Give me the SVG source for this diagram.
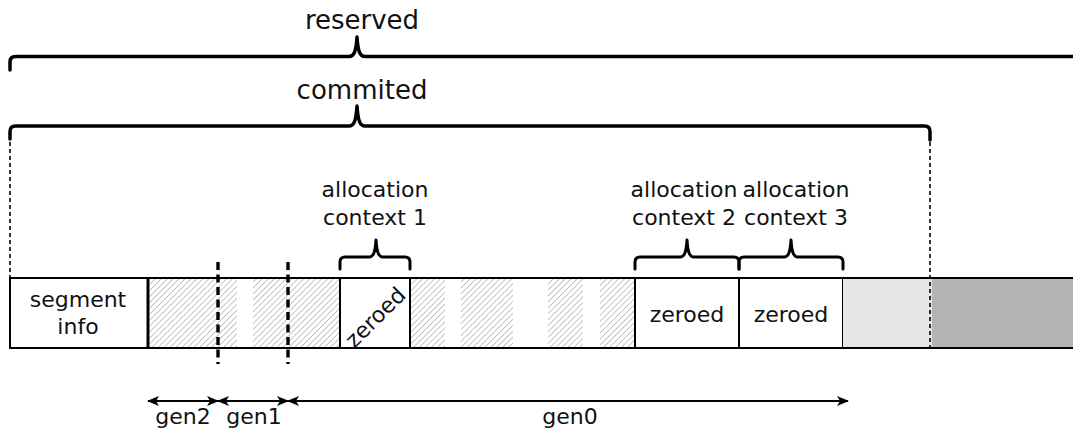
<svg xmlns="http://www.w3.org/2000/svg" width="1073" height="431" viewBox="0 0 1073 431">
  <style>
    text { font-family: "DejaVu Sans", "Liberation Sans", sans-serif; fill: #111; }
    .big { font-size: 26px; text-anchor: middle; }
    .lbl { font-size: 22px; text-anchor: middle; }
    .brace { fill: none; stroke: #000; stroke-width: 3.5; stroke-linecap: round; stroke-linejoin: round; }
    .sbrace { fill: none; stroke: #000; stroke-width: 3; stroke-linecap: round; stroke-linejoin: round; }
    .cell { fill: #fff; stroke: #000; stroke-width: 2; }
    .hatch { fill: url(#hatch); stroke: none; }
    .dot { stroke: #000; stroke-width: 1.6; stroke-dasharray: 4 3; fill: none; }
    .gen { stroke: #000; stroke-width: 3.4; stroke-dasharray: 8 4.5; fill: none; }
    .arr { stroke: #000; stroke-width: 1.8; fill: none; }
  </style>
  <defs>
    <pattern id="hatch" patternUnits="userSpaceOnUse" width="4.2" height="4.2" patternTransform="rotate(45)">
      <line x1="0" y1="0" x2="0" y2="4.2" stroke="#8c8c8c" stroke-width="1"/>
    </pattern>
    <marker id="head" viewBox="0 0 12 10" refX="11" refY="5" markerWidth="12" markerHeight="10" markerUnits="userSpaceOnUse" orient="auto-start-reverse">
      <path d="M0,0 L12,5 L0,10 L3,5 Z" fill="#000"/>
    </marker>
  </defs>

  <!-- top-level extents -->
  <g id="reserved">
    <path class="brace" d="M10,70 L10,62 Q10,56.5 15.5,56.5 L349,56.5 C354,56.5 356,52 357,37 C358,52 360,56.5 365,56.5 L1080,56.5"/>
    <text class="big" x="362" y="29">reserved</text>
  </g>
  <g id="commited">
    <path class="brace" d="M10,139 L10,131.5 Q10,126 15.5,126 L349,126 C354,126 356,121 357,106 C358,121 360,126 365,126 L924.5,126 Q930,126 930,131.5 L930,140"/>
    <text class="big" x="362" y="99">commited</text>
    <line class="dot" x1="10" y1="142" x2="10" y2="278"/>
  </g>

  <!-- segment bar -->
  <g id="segment-info">
    <rect class="cell" x="10" y="278" width="138" height="70"/>
    <text class="lbl" x="78" y="307">segment</text>
    <text class="lbl" x="78" y="334">info</text>
  </g>
  <g id="used-space">
    <rect x="148" y="278" width="192" height="70" fill="#fff"/>
    <rect class="hatch" x="148" y="278" width="89" height="70"/>
    <rect class="hatch" x="253" y="278" width="87" height="70"/>
    <rect x="410" y="278" width="225" height="70" fill="#fff"/>
    <rect class="hatch" x="410" y="278" width="35" height="70"/>
    <rect class="hatch" x="461" y="278" width="52" height="70"/>
    <rect class="hatch" x="548" y="278" width="35" height="70"/>
    <rect class="hatch" x="600" y="278" width="35" height="70"/>
    <line x1="148" y1="278" x2="635" y2="278" stroke="#000" stroke-width="2"/>
    <line x1="148" y1="348" x2="635" y2="348" stroke="#000" stroke-width="2"/>
    <line x1="148" y1="277" x2="148" y2="349" stroke="#000" stroke-width="3"/>
  </g>
  <g id="alloc-ctx-1">
    <rect class="cell" x="340" y="278" width="70" height="70"/>
    <text class="lbl" transform="translate(375,317) rotate(-45)" y="8">zeroed</text>
    <path class="sbrace" d="M340,269 L340,262 Q340,257 345,257 L369,257 C373,257 375,254 376,240 C377,254 379,257 383,257 L405,257 Q410,257 410,262 L410,269"/>
    <text class="lbl" x="375" y="197">allocation</text>
    <text class="lbl" x="375" y="225">context 1</text>
  </g>
  <g id="alloc-ctx-2">
    <rect class="cell" x="635" y="278" width="104" height="70"/>
    <text class="lbl" x="687" y="322">zeroed</text>
    <path class="sbrace" d="M635,269 L635,262 Q635,257 640,257 L680,257 C684,257 686,254 687,240 C688,254 690,257 694,257 L734,257 Q739,257 739,262 L739,269"/>
    <text class="lbl" x="684" y="197">allocation</text>
    <text class="lbl" x="684" y="225">context 2</text>
  </g>
  <g id="alloc-ctx-3">
    <rect class="cell" x="739" y="278" width="104" height="70"/>
    <text class="lbl" x="791" y="322">zeroed</text>
    <path class="sbrace" d="M739,269 L739,262 Q739,257 744,257 L784,257 C788,257 790,254 791,240 C792,254 794,257 798,257 L838,257 Q843,257 843,262 L843,269"/>
    <text class="lbl" x="796" y="197">allocation</text>
    <text class="lbl" x="796" y="225">context 3</text>
  </g>
  <g id="free-committed">
    <rect x="843" y="278" width="89" height="70" fill="#e6e6e6"/>
    <line x1="843" y1="278" x2="932" y2="278" stroke="#000" stroke-width="2"/>
    <line x1="843" y1="348" x2="932" y2="348" stroke="#000" stroke-width="2"/>
  </g>
  <g id="reserved-only">
    <rect x="932" y="278" width="145" height="70" fill="#b3b3b3"/>
    <line x1="932" y1="278" x2="1075" y2="278" stroke="#000" stroke-width="2"/>
    <line x1="932" y1="348" x2="1075" y2="348" stroke="#000" stroke-width="2"/>
  </g>

  <!-- boundaries and generation ranges -->
  <g id="connectors">
    <line class="dot" x1="930" y1="142" x2="930" y2="348"/>
    <line class="gen" x1="218" y1="262" x2="218" y2="364"/>
    <line class="gen" x1="288" y1="262" x2="288" y2="364"/>
    <line class="arr" x1="148" y1="401" x2="218" y2="401" marker-start="url(#head)" marker-end="url(#head)"/>
    <line class="arr" x1="218" y1="401" x2="288" y2="401" marker-start="url(#head)" marker-end="url(#head)"/>
    <line class="arr" x1="288" y1="401" x2="848" y2="401" marker-start="url(#head)" marker-end="url(#head)"/>
  </g>
  <g id="gen-labels">
    <text class="lbl" x="183" y="424">gen2</text>
    <text class="lbl" x="254" y="424">gen1</text>
    <text class="lbl" x="570" y="424">gen0</text>
  </g>
</svg>
